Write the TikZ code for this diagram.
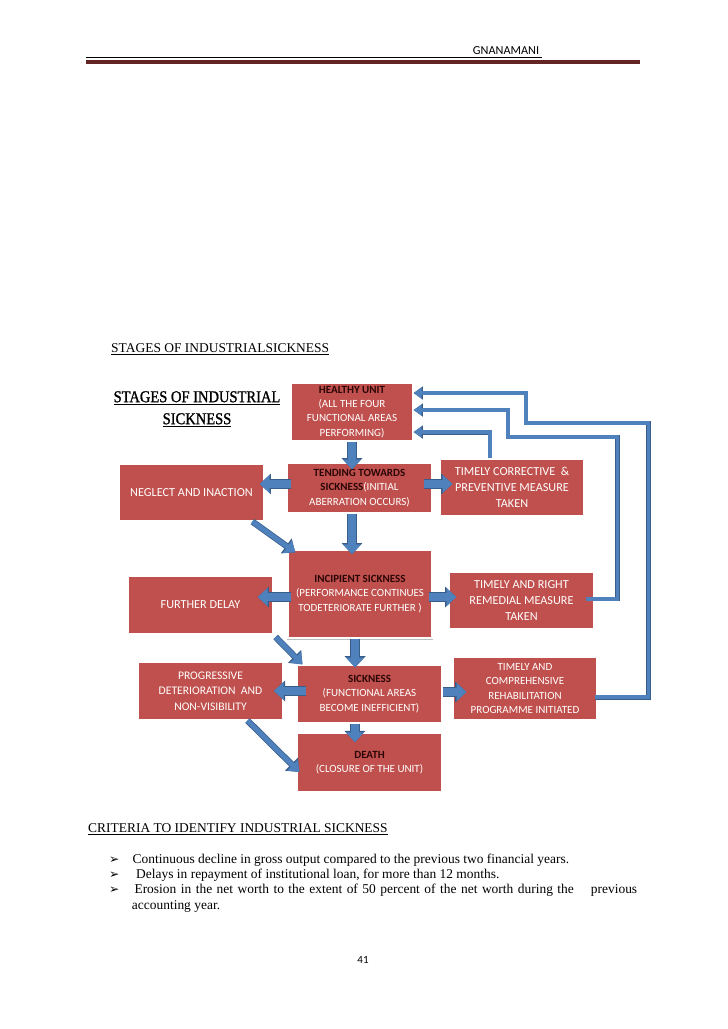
\documentclass[tikz,border=0pt]{standalone}
\usepackage{fontspec}
\setmainfont{Liberation Serif}
\newfontfamily\calibri{Carlito}
\newfontfamily\symfont{DejaVu Sans}
\newfontfamily\titlefont[FakeStretch=0.88,FakeBold=1.2]{Liberation Serif}
\usetikzlibrary{arrows.meta,positioning}

\definecolor{boxred}{HTML}{C0504D}
\definecolor{headtext}{HTML}{2A0606}
\definecolor{arrowblue}{HTML}{4F81BD}
\definecolor{arrowedge}{HTML}{385D8A}
\definecolor{rulered}{HTML}{632523}

\newcommand{\hd}[1]{\textcolor{headtext}{\textbf{#1}}}
\newcommand{\bul}{{\symfont\fontsize{10}{12}\selectfont\char"27A2}}

\begin{document}
\begin{tikzpicture}[x=0.8177pt, y=-0.8177pt,
    redbox/.style={fill=boxred, draw=white, line width=1pt,
        preaction={draw=black!25, line width=2.4pt},
        text=white, align=center, inner sep=2pt, minimum width=118.6pt},
    stage/.style={redbox, font={\calibri\fontsize{9}{11.7}\selectfont}},
    side/.style={redbox, font={\calibri\fontsize{10}{13}\selectfont}},
    fat/.style={draw=arrowblue, line width=7pt, -{Triangle[width=14pt,length=8pt]},
        preaction={draw=arrowedge, line width=8.2pt, -{Triangle[width=16.5pt,length=9.2pt]}}},
    slim/.style={draw=arrowblue, line width=4pt, -{Triangle[width=12pt,length=8pt]},
        preaction={draw=arrowedge, line width=5.2pt, -{Triangle[width=14.5pt,length=9.2pt]}}},
    feed/.style={draw=arrowblue, line width=3pt, -{Triangle[width=8.5pt,length=6.5pt]},
        preaction={draw=arrowedge, line width=4pt, -{Triangle[width=10.5pt,length=7.6pt]}}},
    bodytext/.style={anchor=base west, inner sep=0pt, font=\fontsize{11}{13}\selectfont}
    ]
\useasboundingbox (0,0) rectangle (728,1029);

% page header
\node[anchor=base, inner sep=0pt, font={\calibri\fontsize{10}{12}\selectfont}] (author) at (506,55) {GNANAMANI};
\draw[line width=0.8pt] (86,57) -- (542,57);
\draw[rulered, line width=3pt] (86,62) -- (640,62);

\node[bodytext] (stagehead) at (111,352.5) {\underline{STAGES OF INDUSTRIALSICKNESS}};

% title of the chart
\node[align=center, font={\titlefont\fontsize{13.5}{18}\selectfont}] (title) at (197,409)
    {\underline{STAGES OF INDUSTRIAL}\\\underline{SICKNESS}};

% stages
\node[stage, minimum width=99.8pt, minimum height=47.4pt] (healthy) at (352,412)
    {\hd{HEALTHY UNIT}\\(ALL THE FOUR\\FUNCTIONAL AREAS\\PERFORMING)};
\node[stage, minimum height=40.9pt] (tend) at (359.5,488)
    {\hd{TENDING TOWARDS}\\\hd{SICKNESS}(INITIAL\\ABERRATION OCCURS)};
\node[side, minimum height=46.6pt] (neglect) at (191.5,492.5) {NEGLECT AND INACTION};
\node[side, minimum width=117.7pt, minimum height=46.6pt] (corr) at (512,487.5)
    {TIMELY CORRECTIVE \ \&\\PREVENTIVE MEASURE\\TAKEN};
\node[stage, minimum width=117.7pt, minimum height=72pt] (incip) at (360,594)
    {\hd{INCIPIENT SICKNESS}\\(PERFORMANCE CONTINUES\\TODETERIORATE FURTHER )};
\node[side, minimum height=47.4pt] (further) at (200.5,605) {FURTHER DELAY};
\node[side, minimum height=46.6pt] (remedy) at (521.5,600.5)
    {TIMELY AND RIGHT\\REMEDIAL MEASURE\\TAKEN};
\node[redbox, minimum height=47.4pt, font={\calibri\fontsize{9.5}{12.7}\selectfont}] (progress) at (210.5,691)
    {PROGRESSIVE\\DETERIORATION \ AND\\NON-VISIBILITY};
\node[stage, minimum height=47.4pt] (sick) at (369.5,694)
    {\hd{SICKNESS}\\(FUNCTIONAL AREAS\\BECOME INEFFICIENT)};
\node[stage, minimum width=117.7pt, minimum height=51.5pt] (rehab) at (525,688.5)
    {TIMELY AND\\COMPREHENSIVE\\REHABILITATION\\PROGRAMME INITIATED};
\node[stage, minimum height=48.2pt] (death) at (369.5,762.5)
    {\hd{DEATH}\\(CLOSURE OF THE UNIT)};

% main flow
\draw[fat, shorten >=-5.7pt] (healthy.south) -- (healthy.south |- tend.north);
\draw[fat, shorten >=-4pt] (healthy.south |- tend.south) -- (healthy.south |- incip.north);
\draw[fat, shorten >=-2.5pt] ([xshift=-4pt]incip.south) -- ([xshift=-4pt]incip.south |- sick.north);
\draw[fat, shorten >=-8pt] ([xshift=-11.9pt]sick.south) -- ([xshift=-11.9pt]sick.south |- death.north);

% side branches
\draw[fat, shorten <=-4pt, shorten >=-4pt] ([yshift=3.3pt]tend.west) -- ([yshift=3.3pt]tend.west -| neglect.east);
\draw[fat, shorten <=-7pt, shorten >=-10.6pt] ([yshift=3.3pt]tend.east) -- ([yshift=3.3pt]tend.east -| corr.west);
\draw[fat, shorten <=-3pt, shorten >=-13pt] ([yshift=-2.5pt]incip.west) -- ([yshift=-2.5pt]incip.west -| further.east);
\draw[fat, shorten <=-3pt, shorten >=-6.5pt] ([yshift=-2.5pt]incip.east) -- ([yshift=-2.5pt]incip.east -| remedy.west);
\draw[fat, shorten <=-8pt, shorten >=-8pt] ([yshift=2.5pt]sick.west) -- ([yshift=2.5pt]sick.west -| progress.east);
\draw[fat, shorten >=-11.5pt] ([yshift=1.6pt]sick.east) -- ([yshift=1.6pt]sick.east -| rehab.west);

% neglect leads on
\draw[slim] ([xshift=-10pt]neglect.south east) -- ([shift={(6.5pt,-2.5pt)}]incip.north west);
\draw[slim] ([shift={(1.6pt,-2pt)}]further.south east) -- ([xshift=5pt]sick.north west);
\draw[slim] ([xshift=-29.5pt]progress.south east) -- ([shift={(2.5pt,-7.8pt)}]death.west);

% back to a healthy unit
\draw[feed] ([xshift=-18pt]corr.north) |- ([yshift=-16.4pt]healthy.east);
\draw[feed, shorten <=-7pt] ([yshift=1.2pt]remedy.east) -- ++(23,0) |- (508,437) |- ([yshift=1.6pt]healthy.east);
\draw[feed, shorten <=-2pt] ([yshift=-7pt]rehab.east) -- ++(51,0) |- (526,423) |- ([yshift=15.5pt]healthy.east);

% criteria
\node[bodytext] (crithead) at (88,832) {\underline{CRITERIA TO IDENTIFY INDUSTRIAL SICKNESS}};
\node[bodytext] (b1) at (109,863) {\bul};
\node[bodytext] (b2) at (109,878.3) {\bul};
\node[bodytext] (b3) at (109,893.3) {\bul};
\node[bodytext] (c1) at (132.5,863) {Continuous decline in gross output compared to the previous two financial years.};
\node[bodytext] (c2) at (136,878.3) {Delays in repayment of institutional loan, for more than 12 months.};
\node[bodytext, text width=411pt] (c3) at (134.3,893.3) {Erosion in the net worth to the extent of 50 percent of the net worth during the\hfill previous};
\node[bodytext] (c4) at (131.7,909.3) {accounting year.};

\node[font={\calibri\fontsize{9}{11}\selectfont}] (pageno) at (363,960) {41};
\end{tikzpicture}
\end{document}
